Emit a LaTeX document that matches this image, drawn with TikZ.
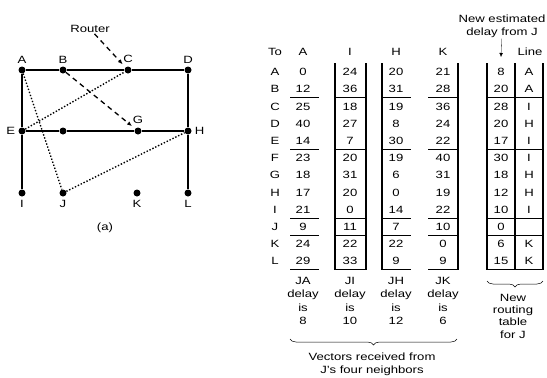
\documentclass[tikz,border=0pt]{standalone}
\usepackage{fontspec}
\setmainfont{Liberation Sans}[FakeStretch=1.25]
\usetikzlibrary{arrows.meta,positioning,calc,decorations.pathreplacing}

\begin{document}
\begin{tikzpicture}[x=1pt, y=-1pt,
    router/.style={circle, fill, inner sep=0pt, minimum size=7pt},
    txt/.style={font=\fontsize{10.5}{13}\selectfont, inner sep=1pt, align=center},
    link/.style={line width=1.8pt},
    vlink/.style={line width=1.4pt, dash pattern=on 1.4pt off 1.8pt},
    ptr/.style={line width=1.3pt, dash pattern=on 5pt off 4pt, -{Latex[length=5pt,width=4pt]}, shorten >=4pt},
    cell/.style={font=\fontsize{10.5}{13}\selectfont, inner sep=0pt},
    rule/.style={line width=1.2pt},
    brc/.style={decorate, decoration={brace, mirror, amplitude=6pt}, line width=0.5pt}
]
\useasboundingbox (0,0) rectangle (547,378);

% (a) the subnet
\node[router] (A) at (22,70) {};
\node[router] (B) at (63,70) {};
\node[router] (C) at (128,70) {};
\node[router] (D) at (188,70) {};
\node[router] (E) at (22,131) {};
\node[router] (F) at (63,131) {};
\node[router] (G) at (138,131) {};
\node[router] (H) at (188,131) {};
\node[router] (I) at (22,193) {};
\node[router] (J) at (63,193) {};
\node[router] (K) at (137,193) {};
\node[router] (L) at (188,193) {};
\node[txt, above=2pt of A] {A};
\node[txt, above=2pt of B] {B};
\node[txt, above=2pt of C] {C};
\node[txt, above=2pt of D] {D};
\node[txt, left=2pt of E] {E};
\node[txt, above=3pt of G] {G};
\node[txt, right=2pt of H] {H};
\node[txt, below=2pt of I] {I};
\node[txt, below=2pt of J] {J};
\node[txt, below=2pt of K] {K};
\node[txt, below=2pt of L] {L};
\node[txt] (router) at (90,29) {Router};
\node[txt] (cap-a) at (105,228) {(a)};

\draw[link] (A) -- (B) -- (C) -- (D);
\draw[link] (E) -- (F) -- (G) -- (H);
\draw[link] (A) -- (E) -- (I);
\draw[link] (D) -- (H) -- (L);
\draw[vlink] (A) -- (J);
\draw[vlink] (E) -- (C);
\draw[vlink] (J) -- (H);
\draw[ptr] (B) -- (G);
\draw[ptr] (router) -- (C);

% (b) vectors and new table for J
\node[txt] (hdr-to) at (275,52) {To};
\node[txt] (hdr-a) at (303,52) {A};
\node[txt] (hdr-i) at (350,52) {I};
\node[txt] (hdr-h) at (396,52) {H};
\node[txt] (hdr-k) at (443,52) {K};
\node[txt] (hdr-line) at (530,52) {Line};
\coordinate (hdr-est) at (501,57);
\node[txt] (est) at (502,26) {New estimated\\delay from J};
\draw[-{Latex[length=4pt,width=3.5pt]}, line width=0.3pt] (est) -- (hdr-est);

\foreach \r/\a/\i/\h/\k/\e/\l [count=\n] in {
    A/0/24/20/21/8/A, B/12/36/31/28/20/A, C/25/18/19/36/28/I,
    D/40/27/8/24/20/H, E/14/7/30/22/17/I, F/23/20/19/40/30/I,
    G/18/31/6/31/18/H, H/17/20/0/19/12/H, I/21/0/14/22/10/I,
    J/9/11/7/10/0/{}, K/24/22/22/0/6/K, L/29/33/9/9/15/K} {
  \pgfmathsetmacro{\y}{72+17.2*(\n-1)}
  \node[cell] (to-\r) at (275,\y) {\r};
  \node[cell] (\r-a) at (303,\y) {\a};
  \node[cell] (\r-i) at (350,\y) {\i};
  \node[cell] (\r-h) at (396,\y) {\h};
  \node[cell] (\r-k) at (443,\y) {\k};
  \node[cell] (\r-est) at (501,\y) {\e};
  \node[cell] (\r-line) at (529,\y) {\l};
}

\foreach \s in {97.8,149.4,218.2,235.4,269.8} {
  \draw[rule] (290,\s) -- (319,\s);
  \draw[rule] (335,\s) -- (366,\s);
  \draw[rule] (382,\s) -- (411,\s);
  \draw[rule] (428,\s) -- (458,\s);
  \draw[rule] (487,\s) -- (543,\s);
}
\foreach \v in {335,366,382,458,487,515,543}
  \draw[rule] (\v,63) -- (\v,269.8);

\node[txt, font=\fontsize{10.5}{13.3}\selectfont] (dly-a) at (303,301) {JA\\delay\\is\\8};
\node[txt, font=\fontsize{10.5}{13.3}\selectfont] (dly-i) at (350,301) {JI\\delay\\is\\10};
\node[txt, font=\fontsize{10.5}{13.3}\selectfont] (dly-h) at (396,301) {JH\\delay\\is\\12};
\node[txt, font=\fontsize{10.5}{13.3}\selectfont] (dly-k) at (443,301) {JK\\delay\\is\\6};

\draw[brc] (290,339) -- (457,339);
\node[txt] (vec) at (372,364) {Vectors received from\\J's four neighbors};
\draw[brc] (487,281) -- (543,281);
\node[txt, font=\fontsize{10.5}{12.3}\selectfont] (newtab) at (513,316) {New\\routing\\table\\for J};
\end{tikzpicture}
\end{document}
